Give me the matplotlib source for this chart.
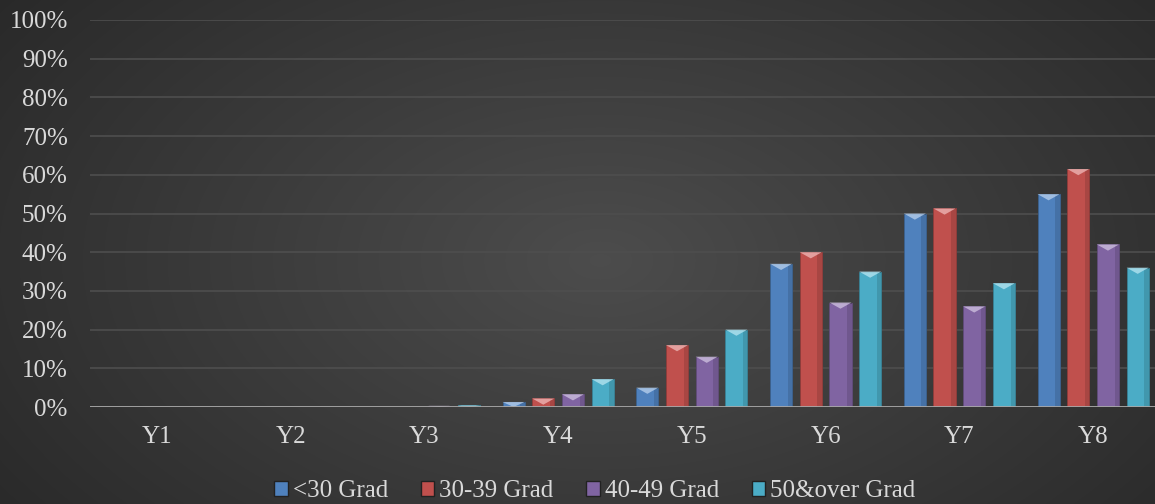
import numpy as np
import matplotlib.pyplot as plt
from matplotlib.patches import Polygon, Patch
from matplotlib.colors import to_rgb

plt.rcParams['font.family'] = ['Liberation Serif', 'DejaVu Serif']

years = ["Y1", "Y2", "Y3", "Y4", "Y5", "Y6", "Y7", "Y8"]
series = ["<30 Grad", "30-39 Grad", "40-49 Grad", "50&over Grad"]
under30 = [0, 0, 0, 1.3, 5, 37, 50, 55]
g30_39 = [0, 0, 0, 2.2, 16, 40, 51.3, 61.5]
g40_49 = [0, 0, 0.3, 3.3, 13, 27, 26, 42]
over50 = [0, 0, 0.4, 7.2, 20, 35, 32, 36]
colors = ["#4f81bd", "#c0504d", "#8064a2", "#4bacc6"]

fig = plt.figure(figsize=(11.55, 5.04), dpi=100)

# radial gradient background
bg = fig.add_axes([0, 0, 1, 1])
yy, xx = np.mgrid[0:504, 0:1155]
r = np.sqrt(((xx - 600) / 700.0) ** 2 + ((yy - 260) / 420.0) ** 2)
v = np.clip(0.30 - 0.13 * r, 0.15, 0.30)
bg.imshow(np.dstack([v, v, v]), aspect='auto', extent=[0, 1, 0, 1])
bg.axis('off')

ax = fig.add_axes([90 / 1155, 97 / 504, 1070 / 1155, 387 / 504])
ax.set_facecolor('none')
x = np.arange(len(years))
w = 0.165
step = 0.222
ax.set_xlim(-0.5, len(years) - 0.5)
ax.set_ylim(0, 100)

tip_h = 1.6
for i, (vals, c) in enumerate(zip([under30, g30_39, g40_49, over50], colors)):
    pos = x + (i - 1.5) * step
    bars = ax.bar(pos, vals, width=w, color=c, edgecolor=tuple(k * 0.75 for k in to_rgb(c)),
                  linewidth=0.6, zorder=3)
    light = tuple(min(1, k * 0.5 + 0.55) for k in to_rgb(c))
    for b in bars:
        h = b.get_height()
        if h <= 0:
            continue
        x0 = b.get_x()
        x1 = x0 + b.get_width()
        th = min(tip_h, h)
        tri = Polygon([(x0, h), (x1, h), ((x0 + x1) / 2, h - th)], closed=True,
                      facecolor=light, edgecolor='none', alpha=0.8, zorder=4)
        ax.add_patch(tri)
        ax.bar(b.get_x() + b.get_width() * 0.8, h, width=b.get_width() * 0.2, align='edge',
               color='black', alpha=0.12, zorder=3.5)

ax.set_yticks(np.arange(0, 101, 10))
ax.set_yticklabels([f"{t}%" for t in range(0, 101, 10)])
ax.set_xticks(x)
ax.set_xticklabels(years)
ax.yaxis.grid(True, color='#4e4e4e', linewidth=1.2, zorder=0)
ax.set_axisbelow(True)
for s in ax.spines.values():
    s.set_visible(False)
ax.axhline(0, color='#a8a8a8', linewidth=2, zorder=5)
ax.tick_params(axis='both', length=0, colors='#d9d9d9', labelsize=18)
ax.tick_params(axis='y', pad=16)
ax.tick_params(axis='x', pad=14)

handles = [Patch(facecolor=c, edgecolor='#222222') for c in colors]
leg = fig.legend(handles, series, loc='center', bbox_to_anchor=(0.515, 0.026), ncol=4,
                 frameon=False, fontsize=18, handlelength=0.55, handleheight=0.55,
                 handletextpad=0.2, columnspacing=1.3)
for t in leg.get_texts():
    t.set_color('#d9d9d9')

fig.savefig("out.png", dpi=100)
